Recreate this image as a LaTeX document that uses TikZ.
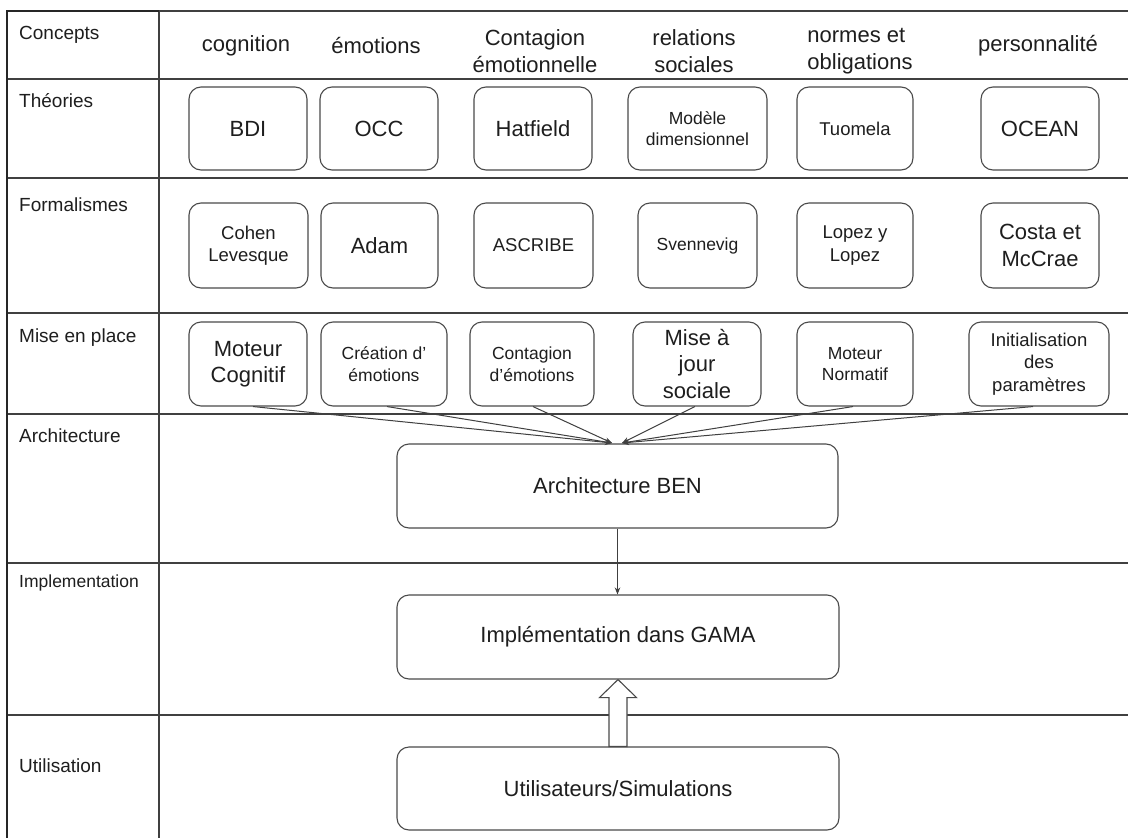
\documentclass[tikz,border=0pt]{standalone}
\usepackage{fontspec}
\setmainfont{Liberation Sans}
\usetikzlibrary{arrows.meta}
\definecolor{ln}{HTML}{404040}
\definecolor{bx}{HTML}{4A4A4A}
\definecolor{tx}{HTML}{1E1E1E}
\begin{document}
\begin{tikzpicture}[x=1pt,y=-1pt,
  grid/.style={draw=ln, line width=1.3pt},
  rbox/.style={draw=bx, line width=1.1pt, rounded corners=12pt, align=center, text=tx, inner sep=0pt},
  big/.style={font=\fontsize{22}{26.5}\selectfont},
  small/.style={font=\fontsize{18.5}{22.5}\selectfont},
  smaller/.style={font=\fontsize{17.5}{21.5}\selectfont},
  lab/.style={anchor=west, text=tx, font=\fontsize{19}{22}\selectfont, inner sep=0pt},
  head/.style={text=tx, align=center, font=\fontsize{22}{26.5}\selectfont, inner sep=0pt},
  conn/.style={draw=ln, line width=1pt, -{Stealth[length=7pt,width=5.5pt]}}
]
\useasboundingbox (0,0) rectangle (1128,838);
\fill[white] (0,0) rectangle (1128,838);

% grid
\draw[grid] (159,11) -- (1128,11);
\foreach \yy in {79,178,313,414,563,715} \draw[grid] (7,\yy) -- (1128,\yy);
\draw[grid] (159,11) -- (159,838);
\draw[line width=2pt, black!85] (7,838) -- (7,11) -- (159,11);

% row labels
\node[lab] (lconc) at (19,35) {Concepts};
\node[lab] (lthe) at (19,101) {Théories};
\node[lab] (lform) at (19,205) {Formalismes};
\node[lab] (lmise) at (19,338) {Mise en place};
\node[lab] (larch) at (19,436) {Architecture};
\node[lab, font=\fontsize{17.5}{21}\selectfont] (limpl) at (19,583) {Implementation};
\node[lab] (lutil) at (19,766) {Utilisation};

% concept headers
\node[head] (c1) at (246,46) {cognition};
\node[head] (c2) at (376,46) {émotions};
\node[head] (c3) at (535,51) {Contagion\\émotionnelle};
\node[head] (c4) at (694,51) {relations\\sociales};
\node[head, align=left] (c5) at (860,51) {normes et\\obligations};
\node[head] (c6) at (1038,46) {personnalité};

% theories
\node[rbox, big, minimum width=118, minimum height=83] (bdi) at (248,128.5) {BDI};
\node[rbox, big, minimum width=118, minimum height=83] (occ) at (379,128.5) {OCC};
\node[rbox, big, minimum width=118, minimum height=83] (hat) at (533,128.5) {Hatfield};
\node[rbox, smaller, minimum width=139, minimum height=83] (mod) at (697.5,128.5) {Modèle\\dimensionnel};
\node[rbox, small, minimum width=116, minimum height=83] (tuo) at (855,128.5) {Tuomela};
\node[rbox, big, minimum width=118, minimum height=83] (ocean) at (1040,128.5) {OCEAN};

% formalismes
\node[rbox, small, minimum width=119, minimum height=85] (cohen) at (248.5,245.5) {Cohen\\Levesque};
\node[rbox, big, minimum width=117, minimum height=85] (adam) at (379.5,245.5) {Adam};
\node[rbox, small, minimum width=119, minimum height=85] (ascribe) at (533.5,245.5) {ASCRIBE};
\node[rbox, smaller, minimum width=119, minimum height=85] (sven) at (697.5,245.5) {Svennevig};
\node[rbox, small, minimum width=116, minimum height=85] (lopez) at (855,245.5) {Lopez y\\Lopez};
\node[rbox, big, minimum width=118, minimum height=85] (costa) at (1040,245.5) {Costa et\\McCrae};

% mise en place
\node[rbox, big, minimum width=118, minimum height=84] (mc) at (248,364) {Moteur\\Cognitif};
\node[rbox, smaller, minimum width=126, minimum height=84] (crea) at (384,364) {Création d'\\émotions};
\node[rbox, smaller, minimum width=124, minimum height=84] (cont) at (532,364) {Contagion\\d'émotions};
\node[rbox, big, minimum width=128, minimum height=84] (maj) at (697,364) {Mise à\\jour\\sociale};
\node[rbox, smaller, minimum width=116, minimum height=84] (mn) at (855,364) {Moteur\\Normatif};
\node[rbox, small, minimum width=140, minimum height=84] (init) at (1039,364) {Initialisation\\des\\paramètres};

% architecture / implementation / utilisation
\node[rbox, big, minimum width=441, minimum height=84] (ben) at (617.5,486) {Architecture BEN};
\node[rbox, big, minimum width=442, minimum height=84] (gama) at (618,637) {Implémentation dans GAMA};
\node[rbox, big, minimum width=442, minimum height=83] (util) at (618,788.5) {Utilisateurs/Simulations};

% converging arrows
\coordinate (pL) at (612,443);
\coordinate (pR) at (622,443);
\draw[conn] ([xshift=5pt]mc.south) -- (pL);
\draw[conn] ([xshift=3pt]crea.south) -- (pL);
\draw[conn] ([xshift=1pt]cont.south) -- (pL);
\draw[conn] ([xshift=-2pt]maj.south) -- (pR);
\draw[conn] ([xshift=-2pt]mn.south) -- (pR);
\draw[conn] ([xshift=-6pt]init.south) -- (pR);

% BEN -> GAMA
\draw[conn] (ben.south) -- (ben.south |- gama.north);

% hollow block arrow Utilisateurs -> GAMA
\draw[draw=bx, line width=1.1pt, fill=white]
  ([xshift=-9pt]util.north) -- ([xshift=-9pt,yshift=-18pt]gama.south)
  -- ([xshift=-18.5pt,yshift=-18pt]gama.south) -- (gama.south)
  -- ([xshift=18.5pt,yshift=-18pt]gama.south) -- ([xshift=9pt,yshift=-18pt]gama.south)
  -- ([xshift=9pt]util.north) -- cycle;
\end{tikzpicture}
\end{document}
